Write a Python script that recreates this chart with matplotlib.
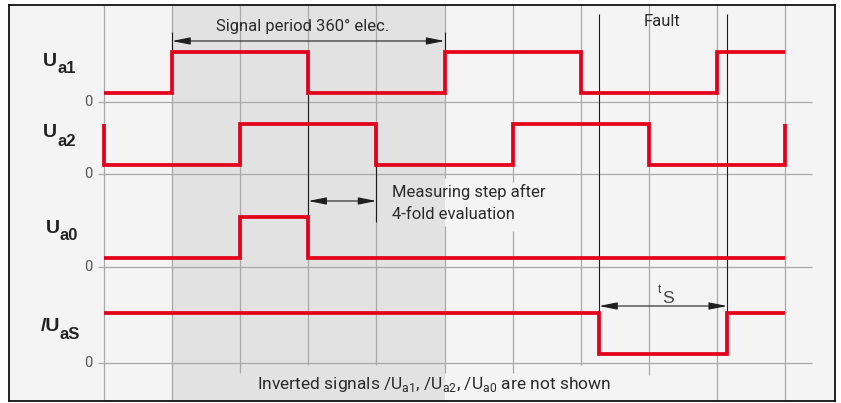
import matplotlib
matplotlib.use('Agg')
import matplotlib.pyplot as plt

# time axis: one grid step = 90 deg elec.
grid_steps = list(range(11))

ua1_t = [0, 1, 3, 5, 7, 9, 10]
ua1_v = [0, 1, 0, 1, 0, 1, 1]
ua2_t = [0, 0, 2, 4, 6, 8, 10, 10]
ua2_v = [1, 0, 1, 0, 1, 0, 0, 1]
ua0_t = [0, 2, 3, 10]
ua0_v = [0, 1, 0, 0]
fault_start = 7.27
fault_end = 9.15
uas_t = [0, fault_start, fault_end, 10]
uas_v = [1, 0, 1, 1]

period = (1, 5)        # signal period 360 deg elec.
meas_step = (3, 4)     # measuring step after 4-fold evaluation

channels = [('U', 'a1', ua1_t, ua1_v),
            ('U', 'a2', ua2_t, ua2_v),
            ('U', 'a0', ua0_t, ua0_v),
            ('/U', 'aS', uas_t, uas_v)]

# layout (pixel rows of the zero lines, level offsets)
W, H = 841, 403
STEP_PX = 68.1
X0_PX = 104
baselines = [102, 174, 267, 363]
LOW = 9
AMP = 41
# label placement per channel: (main right edge, main dy, sub left, sub dy)
label_pos = [(57, -36, 57, -29), (57, -37, 57, -28),
             (60, -34, 60, -27), (60, -32, 60, -24)]

RED = '#e3001b'
GRID = '#a9a9a9'
INK = '#1e1e1e'
TXT = '#2b2b2b'
NARROW = ['Liberation Sans Narrow', 'Roboto', 'DejaVu Sans']


def tx(px):
    return (px - X0_PX) / STEP_PX


def lvl(base, v):
    return base - LOW - AMP * v


fig = plt.figure(figsize=(W / 100, H / 100), dpi=100)
fig.patch.set_facecolor('white')
# axes = inner frame
ax = fig.add_axes([9 / W, 1 - 401 / H, (835 - 9) / W, (401 - 5) / H])
ax.set_xlim(tx(9), tx(835))
ax.set_ylim(401, 5)
ax.set_facecolor('#f4f4f4')
ax.set_xticks([])
ax.set_yticks([])
for s in ax.spines.values():
    s.set_color('#111111')
    s.set_linewidth(1.3)

# shaded period
ax.axvspan(period[0], period[1], color='#e2e2e2', zorder=0, lw=0)

# vertical grid (some lines stop above the bottom note / behind text)
bottoms = [401, 401, 373, 365, 365, 373, 373, 365, 375, 401, 401]
for t, b in zip(grid_steps, bottoms):
    if t in (5, 6):
        ax.vlines(t, 5, 178 if t == 5 else 182, color=GRID, lw=0.9, zorder=1)
        ax.vlines(t, 226 if t == 5 else 231, b, color=GRID, lw=0.9, zorder=1)
    else:
        ax.vlines(t, 5, b, color=GRID, lw=0.9, zorder=1)

# zero lines
ax.hlines(baselines, tx(98), tx(812), color=GRID, lw=0.9, zorder=1)

# signals
for (main, sub, t, v), base, lp in zip(channels, baselines, label_pos):
    y = [lvl(base, k) for k in v]
    ax.plot(t, y, drawstyle='steps-post', color=RED, lw=2.7,
            solid_joinstyle='miter', solid_capstyle='butt', zorder=4)
    ax.text(tx(lp[0]), base + lp[1], main, ha='right', va='baseline',
            fontsize=14, fontweight='bold', color='#222222',
            family='Liberation Sans')
    ax.text(tx(lp[2]), base + lp[3], sub, ha='left', va='baseline',
            fontsize=12, fontweight='bold', color='#222222',
            family='Liberation Sans')
    ax.text(tx(88), base, '0', ha='center', va='center', fontsize=10.5,
            color='#555555', family=NARROW)

arrow = dict(arrowstyle='<|-|>,head_length=1.1,head_width=0.22',
             color=INK, lw=0.8, shrinkA=0, shrinkB=0)

# signal period dimension
ax.vlines(period, 32, lvl(baselines[0], 1), color=INK, lw=0.8, zorder=3)
ax.annotate('', xy=(period[1], 41), xytext=(period[0], 41),
            arrowprops=arrow, zorder=3)
ax.text(tx(303), 26, 'Signal period 360° elec.', ha='center', va='center',
        fontsize=12, color=TXT, family=NARROW)

# measuring step dimension
ax.vlines(meas_step[0], lvl(baselines[0], 0), lvl(baselines[2], 1),
          color=INK, lw=0.8, zorder=3)
ax.vlines(meas_step[1], lvl(baselines[1], 0), 222, color=INK, lw=0.8, zorder=3)
ax.annotate('', xy=(meas_step[1], 201), xytext=(meas_step[0], 201),
            arrowprops=arrow, zorder=3)
ax.text(tx(392), 197, 'Measuring step after', ha='left', va='baseline',
        fontsize=12, color=TXT, family=NARROW)
ax.text(tx(392), 219, '4-fold evaluation', ha='left', va='baseline',
        fontsize=12, color=TXT, family=NARROW)

# fault and t_S
ax.vlines([fault_start, fault_end], 14, lvl(baselines[3], 1),
          color=INK, lw=0.8, zorder=3)
ax.annotate('', xy=(fault_end, 306), xytext=(fault_start, 306),
            arrowprops=arrow, zorder=3)
ax.text(tx(662), 22, 'Fault', ha='center', va='center', fontsize=12,
        color=TXT, family=NARROW)
ax.text(tx(661), 293, 't', ha='right', va='baseline', fontsize=8.5,
        color='#444444', family='Liberation Sans')
ax.text(tx(662), 303, 'S', ha='left', va='baseline', fontsize=12.5,
        color='#444444', family='Liberation Sans')

# bottom note
ax.text(tx(434), 389,
        r'Inverted signals /U$_\mathregular{a1}$, /U$_\mathregular{a2}$, '
        r'/U$_\mathregular{a0}$ are not shown',
        ha='center', va='baseline', fontsize=12.5, color=TXT, family=NARROW)

fig.savefig('out.png', dpi=100, facecolor='white')
